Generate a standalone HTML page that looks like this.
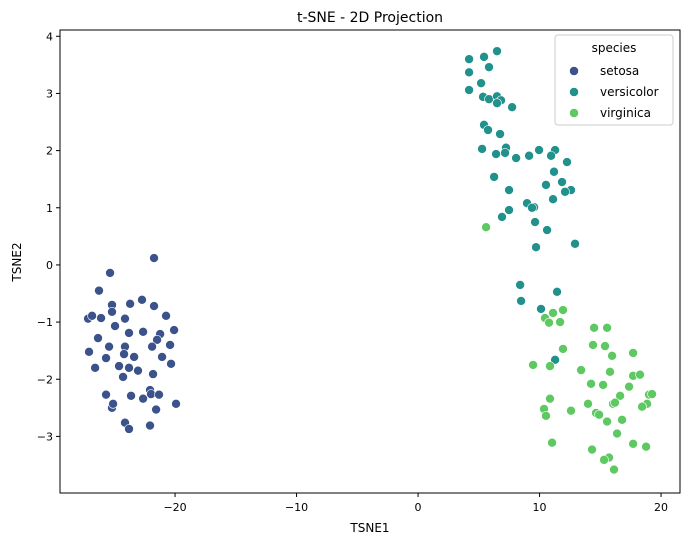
<!DOCTYPE html>
<html><head><meta charset="utf-8"><style>
body{margin:0;background:#fff;font-family:"Liberation Sans","DejaVu Sans",sans-serif;}
text{font-family:"DejaVu Sans","Liberation Sans",sans-serif;}
</style></head><body>
<svg id="chart" width="689" height="545" xmlns="http://www.w3.org/2000/svg">
<text x="370" y="22" text-anchor="middle" font-size="14">t-SNE - 2D Projection</text>
<g id="axes"></g>
<g id="points"></g>
<rect x="60" y="30" width="620" height="463" fill="none" stroke="#000" stroke-width="1"/>
<g>
<rect x="555" y="35" width="118" height="90" rx="3" fill="#fff" fill-opacity="0.8" stroke="#ccc"/>
<text x="614" y="52" text-anchor="middle" font-size="12">species</text>
<circle cx="574" cy="71" r="4.5" fill="#3b528b" stroke="#fff" stroke-width="0.5"/>
<text x="600" y="75" font-size="12">setosa</text>
<circle cx="574" cy="92" r="4.5" fill="#21918c" stroke="#fff" stroke-width="0.5"/>
<text x="600" y="96" font-size="12">versicolor</text>
<circle cx="574" cy="113" r="4.5" fill="#5ec962" stroke="#fff" stroke-width="0.5"/>
<text x="600" y="117" font-size="12">virginica</text>
</g>
<text x="370" y="532" text-anchor="middle" font-size="12">TSNE1</text>
<text transform="translate(21,262) rotate(-90)" text-anchor="middle" font-size="12">TSNE2</text>
</svg>
<script>
const xTicks=[-20,-10,0,10,20];
const yTicks=[-3,-2,-1,0,1,2,3,4];
const setosaX=[-21.73,-25.35,-26.26,-25.19,-23.70,-22.72,-21.73,-25.19,-27.16,-26.83,-26.09,-24.12,-20.74,-24.94,-23.79,-22.63,-21.23,-21.48,-20.08,-26.34,-25.43,-24.12,-21.89,-20.41,-27.08,-24.20,-23.37,-25.68,-21.07,-26.58,-24.61,-23.79,-23.05,-24.28,-21.81,-20.33,-25.68,-23.62,-22.63,-22.06,-21.98,-21.32,-25.19,-25.10,-19.92,-21.56,-24.12,-23.79,-22.06];
const setosaY=[0.12,-0.14,-0.45,-0.70,-0.68,-0.61,-0.72,-0.82,-0.94,-0.89,-0.93,-0.94,-0.89,-1.07,-1.19,-1.17,-1.21,-1.31,-1.14,-1.28,-1.43,-1.43,-1.43,-1.40,-1.52,-1.56,-1.61,-1.63,-1.61,-1.80,-1.77,-1.80,-1.85,-1.96,-1.91,-1.73,-2.27,-2.29,-2.34,-2.19,-2.26,-2.27,-2.50,-2.43,-2.43,-2.53,-2.76,-2.87,-2.81];
const versX=[6.50,4.20,5.43,5.84,4.20,5.19,4.20,5.35,5.84,6.50,6.83,6.50,7.74,5.43,5.76,6.75,5.27,6.42,7.24,7.16,8.07,9.14,9.96,11.28,10.95,12.26,11.19,6.26,11.85,10.53,12.59,12.10,7.49,11.11,8.97,9.55,9.38,7.49,6.91,9.63,10.62,9.71,12.92,8.40,11.44,8.48,10.12,11.28];
const versY=[3.74,3.60,3.64,3.46,3.37,3.18,3.06,2.94,2.90,2.95,2.88,2.83,2.76,2.45,2.36,2.29,2.03,1.94,2.05,1.96,1.87,1.91,2.01,2.01,1.91,1.80,1.63,1.54,1.45,1.40,1.31,1.28,1.31,1.15,1.08,1.01,1.00,0.96,0.84,0.75,0.61,0.31,0.37,-0.35,-0.47,-0.63,-0.77,-1.66];
const virgX=[5.60,11.11,11.93,10.45,10.78,11.69,14.49,15.56,14.40,15.39,11.93,15.97,17.70,9.47,10.86,13.42,15.80,17.70,18.27,14.24,15.23,17.37,16.63,19.01,19.26,10.86,13.99,16.05,16.21,18.85,18.44,10.37,12.59,10.53,14.65,14.90,16.79,15.56,16.38,11.03,17.70,18.77,14.32,15.72,15.31,16.13];
const virgY=[0.66,-0.84,-0.79,-0.93,-1.01,-1.00,-1.10,-1.10,-1.40,-1.42,-1.47,-1.59,-1.54,-1.75,-1.77,-1.84,-1.87,-1.94,-1.92,-2.08,-2.10,-2.13,-2.29,-2.27,-2.26,-2.34,-2.43,-2.43,-2.41,-2.43,-2.48,-2.52,-2.55,-2.64,-2.59,-2.62,-2.71,-2.74,-2.95,-3.11,-3.13,-3.18,-3.23,-3.37,-3.41,-3.58];
const X0=60,X1=680,Y0=30,Y1=493,xMin=-29.47,xMax=21.56,yMin=-3.99,yMax=4.11;
const sx=v=>X0+(v-xMin)/(xMax-xMin)*(X1-X0);
const sy=v=>Y1-(v-yMin)/(yMax-yMin)*(Y1-Y0);
const NS="http://www.w3.org/2000/svg";
const axes=document.getElementById('axes'),pts=document.getElementById('points');
function mk(tag,attrs,parent,txt){const e=document.createElementNS(NS,tag);for(const k in attrs)e.setAttribute(k,attrs[k]);if(txt!==undefined)e.textContent=txt;parent.appendChild(e);return e;}
xTicks.forEach(t=>{const x=sx(t);
const l=mk('line',{x1:x,x2:x,y1:Y1,y2:Y1+4,stroke:'#000'},axes);


const tx=mk('text',{x:x,y:Y1+18,'text-anchor':'middle','font-size':'11'},axes,t<0?'\u2212'+(-t):String(t));

});
yTicks.forEach(t=>{const y=sy(t);
const l=mk('line',{x1:X0-4,x2:X0,y1:y,y2:y,stroke:'#000'},axes);


const tx=mk('text',{x:X0-7,y:y+4,'text-anchor':'end','font-size':'11'},axes,t<0?'\u2212'+(-t):String(t));

});
function series(xs,ys,color,name){xs.forEach((v,i)=>{
const c=mk('circle',{cx:sx(v),cy:sy(ys[i]),r:4.5,fill:color,stroke:'#fff','stroke-width':0.6},pts);

});}
series(setosaX,setosaY,'#3b528b','setosa');
series(versX,versY,'#21918c','versicolor');
series(virgX,virgY,'#5ec962','virginica');
</script>
</body></html>
